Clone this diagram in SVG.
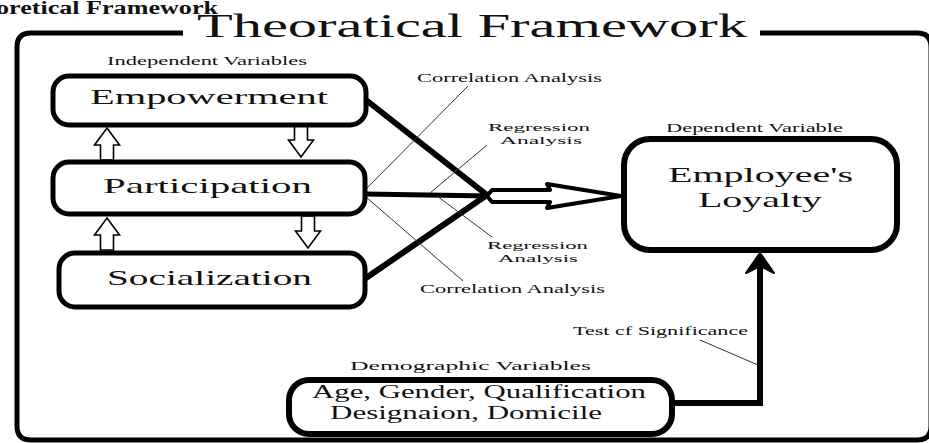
<svg xmlns="http://www.w3.org/2000/svg" width="929" height="443" viewBox="0 0 929 443">
<style>
  text { font-family: "Liberation Serif", "Times New Roman", Times, serif; fill: #111; }
  .box { fill: #fff; stroke: #000; stroke-width: 5; }
  .thick { stroke: #000; stroke-width: 6; fill: none; stroke-linecap: round; }
  .thin { stroke: #333; stroke-width: 1; fill: none; }
  .hollow { fill: #fff; stroke: #000; stroke-width: 1.6; stroke-linejoin: miter; }
  .lbl { font-size: 12px; }
  .two { font-size: 11px; }
  .big { font-size: 22px; }
</style>
<defs>
  <path id="hUp" d="M0,0 L12.5,17 L6.5,17 L6.5,32 L-6.5,32 L-6.5,17 L-12.5,17 Z"/>
</defs>
<rect width="929" height="443" fill="#fff"/>

<g id="frame">
  <path d="M183,33 L31,33 Q17,33 17,47 L17,426 Q17,440 31,440 L917,440 Q931,440 931,426 L931,47 Q931,33 917,33 L760,33" fill="none" stroke="#000" stroke-width="5"/>
  <text x="-4" y="14" font-weight="bold" font-size="18" textLength="222" lengthAdjust="spacingAndGlyphs">oretical Framework</text>
  <text x="197" y="37" font-size="33" textLength="550" lengthAdjust="spacingAndGlyphs">Theoratical Framework</text>
</g>

<g id="connectors">
  <line class="thick" x1="366" y1="100" x2="487" y2="195"/>
  <line class="thick" x1="366" y1="278" x2="487" y2="195"/>
  <line class="thick" x1="365" y1="194" x2="490" y2="196" style="stroke-width:5"/>
  <path d="M487,196 L492,190 L550,190 L547,184 L621,196 L547,208 L550,202 L492,202 Z" fill="#fff" stroke="#000" stroke-width="4" stroke-linejoin="round"/>
  <line class="thin" x1="366" y1="189" x2="468" y2="86"/>
  <line class="thin" x1="430" y1="193" x2="487" y2="145"/>
  <line class="thin" x1="437" y1="196" x2="492" y2="237"/>
  <line class="thin" x1="366" y1="197" x2="463" y2="281"/>
  <path class="thick" d="M672,403 L760,403 L760,262" style="stroke-linecap:butt"/>
  <polygon points="760,253 774,273 760,266 746,273" fill="#000" stroke="#000" stroke-width="2" stroke-linejoin="round"/>
  <line class="thin" x1="700" y1="340" x2="758" y2="365"/>
  <use href="#hUp" class="hollow" x="107" y="128"/>
  <use href="#hUp" class="hollow" transform="translate(301,157) rotate(180)"/>
  <use href="#hUp" class="hollow" x="107" y="218"/>
  <use href="#hUp" class="hollow" transform="translate(308,248) rotate(180)"/>
</g>

<g id="labels">
  <text class="lbl" x="107" y="65" textLength="200" lengthAdjust="spacingAndGlyphs">Independent Variables</text>
  <text class="lbl" x="417" y="82" textLength="185" lengthAdjust="spacingAndGlyphs">Correlation Analysis</text>
  <text class="two" x="488" y="131" textLength="102" lengthAdjust="spacingAndGlyphs">Regression</text>
  <text class="two" x="500" y="144" textLength="82" lengthAdjust="spacingAndGlyphs">Analysis</text>
  <text class="two" x="487" y="249" textLength="101" lengthAdjust="spacingAndGlyphs">Regression</text>
  <text class="two" x="498" y="262" textLength="80" lengthAdjust="spacingAndGlyphs">Analysis</text>
  <text class="lbl" x="420" y="293" textLength="185" lengthAdjust="spacingAndGlyphs">Correlation Analysis</text>
  <text class="lbl" x="666" y="132" textLength="177" lengthAdjust="spacingAndGlyphs">Dependent Variable</text>
  <text class="lbl" x="573" y="335" textLength="175" lengthAdjust="spacingAndGlyphs">Test cf Significance</text>
  <text x="350" y="370" font-size="13" textLength="241" lengthAdjust="spacingAndGlyphs">Demographic Variables</text>
</g>

<g id="empowerment">
  <rect class="box" x="53" y="76" width="313" height="49" rx="16"/>
  <text class="big" x="90" y="104" textLength="238" lengthAdjust="spacingAndGlyphs">Empowerment</text>
</g>
<g id="participation">
  <rect class="box" x="53" y="162" width="312" height="52" rx="16"/>
  <text class="big" x="103" y="193" textLength="209" lengthAdjust="spacingAndGlyphs">Participation</text>
</g>
<g id="socialization">
  <rect class="box" x="59" y="253" width="306" height="54" rx="16"/>
  <text class="big" x="107" y="285" textLength="205" lengthAdjust="spacingAndGlyphs">Socialization</text>
</g>
<g id="employee-loyalty">
  <rect class="box" x="624" y="139" width="273" height="111" rx="26" style="stroke-width:6"/>
  <text x="668" y="182" font-size="21" textLength="185" lengthAdjust="spacingAndGlyphs">Employee's</text>
  <text x="698" y="207" font-size="21" textLength="124" lengthAdjust="spacingAndGlyphs">Loyalty</text>
</g>
<g id="demographics">
  <rect class="box" x="289" y="380" width="383" height="54" rx="20" style="stroke-width:6"/>
  <text x="312" y="398" font-size="18" textLength="334" lengthAdjust="spacingAndGlyphs">Age, Gender, Qualification</text>
  <text x="330" y="419" font-size="18" textLength="272" lengthAdjust="spacingAndGlyphs">Designaion, Domicile</text>
</g>
</svg>
